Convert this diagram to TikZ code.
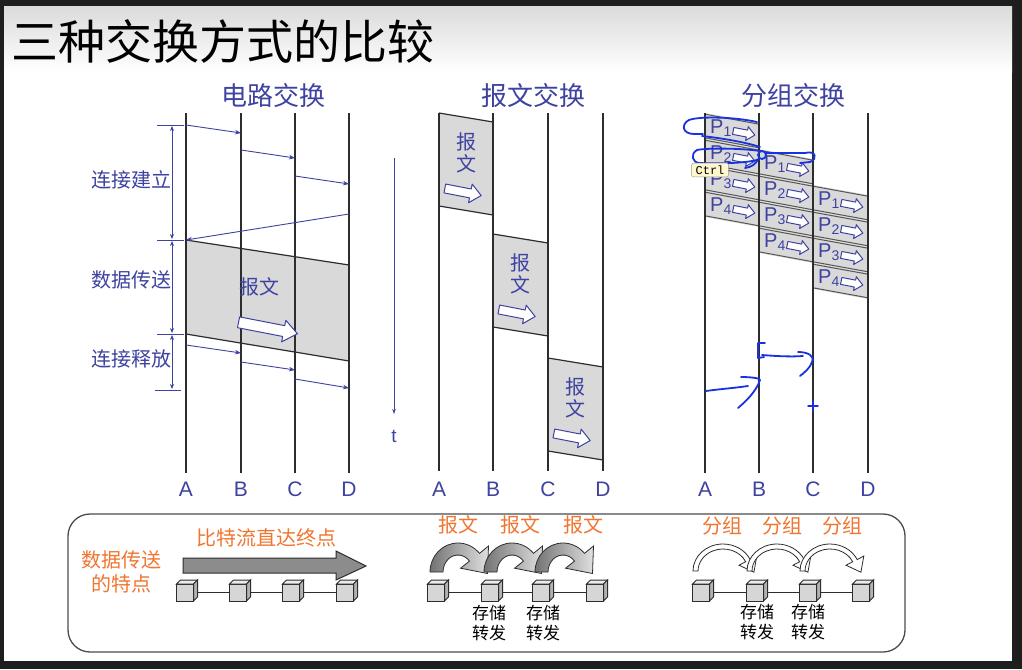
\documentclass[tikz,border=0pt]{standalone}
\usepackage{fontspec}
\setmainfont{Noto Sans CJK SC}
\newfontfamily\latfont{Liberation Sans}
\newfontfamily\keyfont{Liberation Mono}
\usetikzlibrary{arrows.meta}

\definecolor{slideblue}{RGB}{62,66,160}
\definecolor{slideorange}{RGB}{240,118,48}
\definecolor{inkblue}{RGB}{25,50,225}
\definecolor{boxgray}{RGB}{217,217,217}
\definecolor{linegray}{RGB}{45,45,45}
\definecolor{framedark}{RGB}{30,30,30}

\tikzset{
  tline/.style={linegray, line width=1.3pt},
  stlabel/.style={font=\latfont\fontsize{21}{21}\selectfont, text=slideblue, inner sep=0pt},
  ptitle/.style={font=\fontsize{26}{26}\selectfont, text=slideblue},
  sidelabel/.style={font=\fontsize{20}{20}\selectfont, text=slideblue, inner sep=0pt},
  boxtext/.style={font=\fontsize{20}{20}\selectfont, text=slideblue, inner sep=0pt},
  sigarrow/.style={slideblue, line width=0.9pt, -{Stealth[length=6pt,width=4.5pt]}},
  dimarrow/.style={slideblue, line width=0.8pt, {Stealth[length=5pt,width=4pt]}-{Stealth[length=5pt,width=4pt]}},
  dimtick/.style={slideblue, line width=0.8pt},
  boxedge/.style={linegray, line width=1.2pt},
  pedge/.style={linegray!80, line width=1pt},
  hollow/.style={draw=slideblue, fill=white, line width=1pt, line join=round},
  plabel/.style={font=\latfont\fontsize{20}{20}\selectfont, text=slideblue, inner sep=0pt},
  orangetext/.style={font=\fontsize{20}{20}\selectfont, text=slideorange, inner sep=0pt},
  fwdtext/.style={font=\fontsize{17}{20}\selectfont, align=center, inner sep=0pt},
  ink/.style={inkblue, line width=1.8pt, line cap=round, line join=round},
}

% #1,#2 centre, #3 length, #4 shaft, #5 head width, #6 head length
\newcommand\hollowarrow[6]{%
  \begin{scope}[shift={(#1,#2)}, rotate=-11]
    \path[hollow] ({-#3/2},{-#4/2}) -- ({#3/2-#6},{-#4/2}) -- ({#3/2-#6},{-#5/2}) -- ({#3/2},0)
      -- ({#3/2-#6},{#5/2}) -- ({#3/2-#6},{#4/2}) -- ({-#3/2},{#4/2}) -- cycle;
  \end{scope}}

\newcommand\netcube[2]{%
  \filldraw[fill=black!16, draw=linegray, line width=1pt] ({#1-8.5},{#2-8}) rectangle ({#1+8.5},{#2+9});
  \filldraw[fill=black!8, draw=linegray, line width=1pt] ({#1-8.5},{#2-8}) -- ({#1-4.5},{#2-12}) -- ({#1+12.5},{#2-12}) -- ({#1+8.5},{#2-8}) -- cycle;
  \filldraw[fill=black!30, draw=linegray, line width=1pt] ({#1+8.5},{#2-8}) -- ({#1+12.5},{#2-12}) -- ({#1+12.5},{#2+5}) -- ({#1+8.5},{#2+9}) -- cycle;}

\newcommand\storearc[1]{%
  \begin{scope}[shift={(#1,572)}]
    \shadedraw[left color=black!55, right color=black!12, draw=linegray, line width=0.8pt]
      (-28,0) arc[start angle=180, end angle=320, x radius=28, y radius=29]
      -- (30.5,-26.0) -- (29.5,1.5) -- (2.5,-3.8) -- (11.5,-10.9)
      arc[start angle=320, end angle=180, x radius=15, y radius=17] -- cycle;
  \end{scope}}

\newcommand\packetarc[1]{%
  \begin{scope}[shift={(#1,571)}]
    \filldraw[fill=white, draw=linegray, line width=0.8pt]
      (-30,0) arc[start angle=180, end angle=335, x radius=30, y radius=27]
      -- (33.8,-15.0) -- (30.9,1.2) -- (16.0,-5.8) -- (22.7,-9.3)
      arc[start angle=335, end angle=180, x radius=25, y radius=22] -- cycle;
  \end{scope}}

\begin{document}
\begin{tikzpicture}[x=1pt,y=-1pt]
  \useasboundingbox (0,0) rectangle (1022,669);
  \fill[framedark] (0,0) rectangle (1022,669);
  \fill[white] (4,7) rectangle (1012,661);
  \shade[top color=black!14, bottom color=white] (4,7) rectangle (1012,72);
  \node[font=\fontsize{47}{47}\selectfont, anchor=west, inner sep=0pt] (title) at (11,41) {三种交换方式的比较};

  % circuit switching
  \node[ptitle] (cirtitle) at (273,96) {电路交换};
  \fill[boxgray] (186,240) -- (349,265) -- (349,361) -- (186,334) -- cycle;
  \draw[boxedge] (186,240) -- (349,265);
  \draw[boxedge] (186,334) -- (349,361);
  \foreach \n/\x in {A/186,B/241,C/295,D/349}{
    \node[stlabel] (c\n) at (\x,489) {\n};
    \draw[tline] (\x,113) -- (\x,473);
  }
  \draw[sigarrow] (cA |- 0,125) -- (cB |- 0,133);
  \draw[sigarrow] (cB |- 0,150) -- (cC |- 0,158);
  \draw[sigarrow] (cC |- 0,176) -- (cD |- 0,184);
  \draw[sigarrow] (cD |- 0,214) -- (cA |- 0,240);
  \draw[sigarrow] (cA |- 0,345) -- (cB |- 0,353);
  \draw[sigarrow] (cB |- 0,362) -- (cC |- 0,370);
  \draw[sigarrow] (cC |- 0,379) -- (cD |- 0,388);
  \foreach \y in {125,240,334}{
    \draw[dimtick] (157,\y) -- (184,\y);
  }
  \draw[dimtick] (155,390) -- (181,390);
  \draw[dimarrow] (172,126) -- (172,239);
  \draw[dimarrow] (172,241) -- (172,333);
  \draw[dimarrow] (172,335) -- (172,389);
  \node[sidelabel] (setup) at (131,180) {连接建立};
  \node[sidelabel] (transfer) at (131,280) {数据传送};
  \node[sidelabel] (release) at (131,359) {连接释放};
  \node[boxtext] (cirmsg) at (259,287) {报文};
  \hollowarrow{268}{328}{60}{11}{22}{14}

  % message switching
  \node[ptitle] (msgtitle) at (533,96) {报文交换};
  \foreach \xl/\xr/\yt/\i in {439/493/113/1, 493/548/234/2, 548/603/358/3}{
    \fill[boxgray] (\xl,\yt) -- (\xr,\yt+9) -- (\xr,\yt+102) -- (\xl,\yt+93) -- cycle;
    \draw[boxedge] (\xl,\yt) -- (\xr,\yt+9);
    \draw[boxedge] (\xl,\yt+93) -- (\xr,\yt+102);
    \node[boxtext] (msgA\i) at (\xl+27,\yt+29) {报};
    \node[boxtext] (msgB\i) at (\xl+27,\yt+51) {文};
    \hollowarrow{\xl+24}{\yt+79}{37}{9}{19}{11}
  }
  \foreach \n/\x in {A/439,B/493,C/548,D/603}{
    \node[stlabel] (m\n) at (\x,489) {\n};
    \draw[tline] (\x,113) -- (\x,471);
  }
  \node[font=\latfont\fontsize{19}{19}\selectfont, text=slideblue, inner sep=0pt] (taxis) at (394,436) {t};
  \draw[slideblue, line width=1pt, -{Stealth[length=5pt,width=3.5pt]}] (394,158) -- (394,414);

  % packet switching
  \node[ptitle] (pkttitle) at (793,96) {分组交换};
  \foreach \xl/\xr/\yt in {705/759/113, 759/813/149, 813/868/185}{
    \foreach \k in {1,...,4}{
      \pgfmathsetmacro\ya{\yt+26*(\k-1)}
      \fill[boxgray] (\xl,\ya) -- (\xr,\ya+10) -- (\xr,\ya+36) -- (\xl,\ya+26) -- cycle;
      \draw[pedge] (\xl,\ya+1.2) -- (\xr,\ya+11.2);
      \draw[pedge] (\xl,\ya+24.8) -- (\xr,\ya+34.8);
      \node[plabel] (p\xl-\k) at (\xl+16,\ya+15) {P\textsubscript{\k}};
      \hollowarrow{\xl+39}{\ya+20}{22}{7}{14}{8}
    }
  }
  \foreach \n/\x in {A/705,B/759,C/813,D/868}{
    \node[stlabel] (k\n) at (\x,489) {\n};
    \draw[tline] (\x,113) -- (\x,473);
  }

  % hand annotations
  \draw[ink] (757,122) .. controls (735,117) and (700,116) .. (689,120)
    .. controls (681,124) and (682,134) .. (694,134) -- (703,134);
  \draw[ink] (702,136) .. controls (720,138) and (745,142) .. (760,147);
  \draw[ink] (760,151) .. controls (740,148) and (706,148) .. (697,150)
    .. controls (690,154) and (692,163) .. (700,163)
    .. controls (720,164) and (745,163) .. (757,160);
  \draw[ink] (762,155) circle (4);
  \draw[ink] (766,153) -- (805,153) .. controls (816,150) and (818,159) .. (810,162) -- (800,163);
  \draw[ink] (758,159) .. controls (756,164) and (752,167) .. (745,168);
  \node[draw=black!40, fill={rgb,255:red,255;green,248;blue,205}, rounded corners=2pt,
    font=\keyfont\fontsize{12}{12}\selectfont, inner xsep=4pt, inner ysep=2.5pt] (ctrlkey) at (710,170) {Ctrl};
  \draw[ink] (765,343) -- (758,343) -- (758,358) -- (764,357);
  \draw[ink] (762,355) .. controls (775,356) and (790,357) .. (803,356);
  \draw[ink] (798,352) .. controls (808,352) and (815,356) .. (812,362)
    .. controls (810,368) and (805,372) .. (800,376);
  \draw[ink] (706,391) .. controls (720,389) and (735,388) .. (748,386);
  \draw[ink] (741,377) .. controls (750,377) and (760,378) .. (760,380)
    .. controls (756,392) and (745,402) .. (738,408);
  \draw[ink, line width=1.4pt] (808,406) -- (818,406);
  \draw[ink, line width=1.4pt] (813,401) -- (813,411);

  % bottom summary
  \draw[linegray!85, line width=1.3pt, rounded corners=22pt] (68,514) rectangle (905,652);
  \node[orangetext, align=center, font=\fontsize{20}{24}\selectfont] (feature) at (121,572) {数据传送\\的特点};
  \node[orangetext] (bitflow) at (266,538) {比特流直达终点};
  \filldraw[fill=black!45, draw=linegray, line width=1pt] (183,558) -- (336,558) -- (336,551)
    -- (366,566) -- (336,580) -- (336,573) -- (183,573) -- cycle;
  \draw[linegray, line width=1pt] (185,592) -- (345,592);
  \foreach \x in {185,238,291,345}{ \netcube{\x}{592} }

  \draw[linegray, line width=1pt] (436,592) -- (595,592);
  \foreach \x in {436,490,541,595}{ \netcube{\x}{592} }
  \foreach \x in {458,512,563}{ \storearc{\x} }
  \foreach \x/\i in {458/1,520/2,583/3}{ \node[orangetext] (msglabel\i) at (\x,525) {报文}; }
  \node[fwdtext] (msgfwd1) at (489,623) {存储\\转发};
  \node[fwdtext] (msgfwd2) at (543,623) {存储\\转发};

  \draw[linegray, line width=1pt] (701,592) -- (861,592);
  \foreach \x in {701,755,808,861}{ \netcube{\x}{592} }
  \foreach \x in {723,777,830}{ \packetarc{\x} }
  \foreach \x/\i in {722/1,782/2,842/3}{ \node[orangetext] (pktlabel\i) at (\x,526) {分组}; }
  \node[fwdtext] (pktfwd1) at (757,622) {存储\\转发};
  \node[fwdtext] (pktfwd2) at (808,622) {存储\\转发};
\end{tikzpicture}
\end{document}
